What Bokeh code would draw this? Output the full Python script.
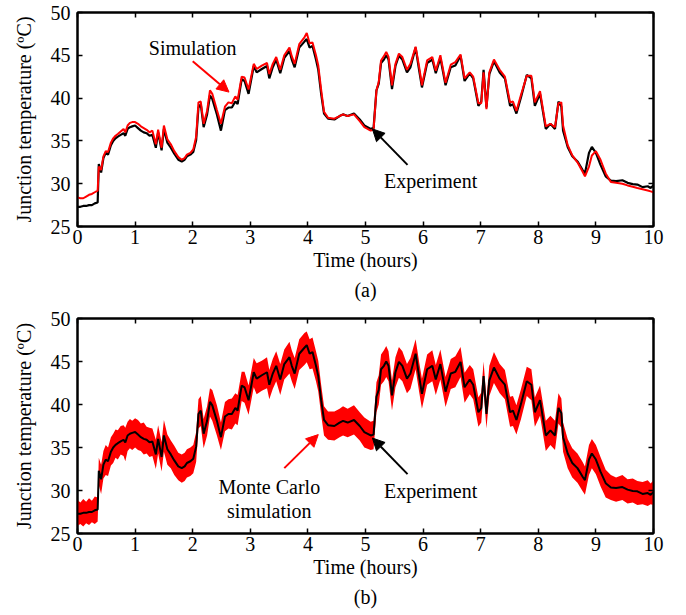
from bokeh.plotting import figure
from bokeh.models import Range1d, FixedTicker, LinearAxis, Label, Arrow, NormalHead, Title, ColumnDataSource
from bokeh.layouts import column
from bokeh.embed import file_html
from bokeh.resources import INLINE

# ---------------- data ----------------
time_h = [0.00, 0.05, 0.10, 0.15, 0.20, 0.25, 0.30, 0.35, 0.37, 0.41,
          0.45, 0.49, 0.53, 0.58, 0.62, 0.66, 0.70, 0.75, 0.80, 0.83,
          0.87, 0.91, 0.95, 1.00,
          1.05, 1.10, 1.15, 1.20, 1.25, 1.30, 1.36, 1.40, 1.46, 1.50,
          1.56, 1.62, 1.68, 1.75, 1.81, 1.86, 1.90, 1.96, 2.01,
          2.06, 2.10, 2.14, 2.19, 2.25, 2.30, 2.34, 2.42, 2.49, 2.56,
          2.62, 2.68, 2.74, 2.78, 2.85, 2.90, 2.97, 3.06,
          3.11, 3.20, 3.29, 3.33, 3.39, 3.45, 3.52, 3.59, 3.68, 3.72,
          3.77, 3.85, 3.94, 3.98, 4.03, 4.08, 4.14, 4.18, 4.23, 4.28,
          4.35, 4.46, 4.55, 4.61, 4.69, 4.80, 4.90, 4.98, 5.09, 5.14,
          5.19, 5.23, 5.27, 5.32, 5.36, 5.40,
          5.46, 5.52, 5.58, 5.64, 5.72, 5.78, 5.87, 5.93, 5.98, 6.07,
          6.16, 6.22, 6.30, 6.39, 6.48, 6.56, 6.65,
          6.72, 6.81, 6.87, 6.96, 7.01, 7.05, 7.10, 7.15, 7.23, 7.33,
          7.42, 7.51, 7.56, 7.62, 7.70, 7.80, 7.88, 7.94, 8.03,
          8.13, 8.21, 8.29, 8.35, 8.40, 8.43, 8.51, 8.59, 8.68, 8.77,
          8.81, 8.88, 8.93, 9.00, 9.08, 9.17, 9.26, 9.35, 9.46, 9.55,
          9.64, 9.72, 9.81, 9.90, 9.95, 10.0]

experiment = [27.3, 27.3, 27.4, 27.4, 27.5, 27.5, 27.7, 27.8, 32.3, 31.3,
              33.0, 33.6, 33.4, 34.5, 35.0, 35.3, 35.5, 35.7, 35.9, 35.6,
              36.4, 36.6, 36.7, 36.8,
              36.5, 36.2, 36.0, 35.9, 35.6, 35.7, 34.2, 36.0, 33.9, 36.4,
              34.8, 34.2, 33.5, 32.8, 32.6, 32.8, 33.2, 33.4, 33.7,
              35.1, 38.9, 39.3, 36.6, 38.1, 40.3, 39.9, 38.1, 36.2, 38.6,
              38.9, 38.9, 39.6, 39.3, 42.2, 42.0, 40.5, 43.75,
              43.0, 43.4, 43.75, 42.3, 43.6, 44.5, 42.9, 44.7, 45.5, 44.5,
              43.6, 45.9, 46.6, 46.9, 45.9, 46.1, 44.5, 43.3, 40.5, 38.2,
              37.6, 37.5, 37.9, 38.1, 37.9, 38.2, 37.5, 36.8, 36.4, 36.5,
              40.9, 41.7, 44.1, 44.5, 45.0, 44.5,
              41.05, 43.75, 44.95, 44.5, 43.0, 43.6, 45.9, 43.3, 41.25, 44.1,
              44.5, 42.9, 44.7, 41.5, 43.6, 43.8, 44.95,
              42.0, 42.9, 42.3, 39.1, 39.6, 43.3, 38.9, 42.8, 44.3, 43.0,
              42.3, 39.1, 39.3, 38.2, 40.1, 42.7, 42.3, 39.1, 40.5,
              36.4, 37.0, 36.4, 39.6, 39.0, 36.2, 34.3, 33.2, 32.6, 31.6,
              31.2, 33.6, 34.3, 33.6, 32.2, 30.85, 30.35, 30.3, 30.4, 30.1,
              29.95, 29.9, 29.6, 29.7, 29.5, 29.8]

simulation = [28.4, 28.3, 28.3, 28.5, 28.7, 28.8, 29.0, 29.2, 32.0, 31.6,
              33.2, 33.8, 33.7, 34.8, 35.3, 35.6, 35.8, 36.1, 36.4, 36.0,
              36.8, 37.1, 37.2, 37.2,
              37.0, 36.7, 36.5, 36.3, 36.0, 36.2, 34.6, 36.3, 34.2, 36.8,
              35.2, 34.6, 33.8, 33.1, 32.8, 33.0, 33.4, 33.6, 34.0,
              35.5, 39.5, 39.6, 37.0, 38.5, 40.9, 40.5, 38.6, 37.0, 39.0,
              39.5, 39.4, 40.2, 39.8, 42.5, 42.4, 41.0, 44.0,
              43.4, 43.8, 44.1, 42.8, 44.0, 44.8, 43.3, 45.0, 45.9, 44.9,
              44.0, 46.3, 47.1, 47.6, 46.4, 46.5, 45.0, 43.8, 41.0, 38.4,
              37.7, 37.6, 37.9, 38.1, 37.9, 38.1, 37.3, 36.6, 36.2, 36.3,
              40.9, 41.9, 44.4, 44.9, 45.4, 44.8,
              41.5, 44.0, 45.2, 44.8, 43.3, 44.0, 46.0, 43.7, 41.5, 44.4,
              44.8, 43.2, 45.0, 41.8, 43.9, 44.2, 45.1,
              42.3, 43.0, 42.5, 39.4, 39.4, 43.0, 38.7, 43.0, 44.5, 43.3,
              42.5, 39.5, 39.6, 38.5, 40.4, 42.6, 42.6, 39.5, 40.8,
              36.7, 37.0, 36.6, 39.4, 39.5, 36.8, 34.5, 33.3, 32.5, 31.4,
              30.85, 32.0, 33.3, 33.8, 32.8, 31.2, 30.2, 30.1, 30.0, 29.8,
              29.65, 29.5, 29.35, 29.2, 29.1, 29.0]

mc_upper = [28.9, 28.6, 29.0, 28.7, 29.1, 28.8, 29.3, 29.2, 33.8, 33.0,
            34.6, 35.3, 35.0, 36.2, 36.6, 37.1, 37.0, 37.5, 37.6, 37.3,
            38.0, 38.3, 38.1, 38.4,
            38.2, 37.8, 37.9, 37.4, 37.3, 37.2, 35.9, 37.6, 35.6, 38.2,
            36.5, 35.8, 35.2, 34.4, 34.2, 34.4, 34.8, 35.0, 35.3,
            36.8, 40.6, 41.0, 38.3, 39.8, 41.9, 41.7, 39.9, 37.9, 40.3,
            40.6, 40.7, 41.3, 41.1, 43.8, 43.8, 42.2, 45.4,
            44.8, 45.1, 45.5, 44.0, 45.3, 46.2, 44.7, 46.4, 47.3, 46.3,
            45.4, 47.6, 48.3, 48.5, 47.6, 47.8, 46.2, 45.1, 42.3, 39.8,
            39.2, 39.2, 39.5, 39.8, 39.5, 39.9, 39.1, 38.5, 38.0, 38.1,
            42.6, 43.4, 45.8, 46.3, 46.8, 46.2,
            42.8, 45.5, 46.7, 46.2, 44.7, 45.4, 47.6, 45.0, 43.0, 45.8,
            46.3, 44.6, 46.4, 43.2, 45.3, 45.6, 46.7,
            43.7, 44.6, 44.1, 40.8, 41.4, 45.0, 40.6, 44.5, 46.1, 44.7,
            44.0, 40.9, 41.0, 39.9, 41.8, 44.4, 44.1, 40.8, 42.2,
            38.1, 38.7, 38.1, 41.3, 40.7, 37.9, 36.0, 34.9, 34.3, 33.3,
            32.8, 35.3, 36.0, 35.3, 33.9, 32.4, 31.8, 31.5, 31.8, 31.3,
            31.4, 31.1, 31.0, 31.2, 30.8, 31.2]

mc_lower = [25.9, 26.1, 25.8, 26.2, 26.0, 26.3, 26.1, 26.4, 30.6, 29.6,
            31.4, 31.8, 31.7, 32.9, 33.2, 33.8, 33.6, 34.2, 34.0, 33.4,
            34.6, 34.9, 34.7, 35.0,
            34.7, 34.6, 34.2, 34.3, 33.9, 34.0, 32.5, 34.3, 32.2, 34.5,
            33.0, 32.6, 31.8, 31.2, 30.9, 31.1, 31.5, 31.7, 32.0,
            33.3, 37.2, 37.5, 34.9, 36.4, 38.6, 38.1, 36.4, 34.7, 36.9,
            37.2, 37.1, 37.8, 37.6, 40.4, 40.2, 38.8, 42.0,
            41.2, 41.6, 41.9, 40.6, 41.8, 42.7, 41.1, 42.9, 43.6, 42.7,
            41.8, 44.0, 44.6, 44.9, 44.1, 44.2, 42.7, 41.5, 38.8, 36.4,
            35.9, 35.8, 36.2, 36.4, 36.2, 36.5, 35.8, 35.0, 34.7, 34.8,
            39.1, 40.0, 42.3, 42.7, 43.2, 42.7,
            39.3, 42.0, 43.1, 42.7, 41.3, 41.8, 44.1, 41.5, 39.5, 42.3,
            42.7, 41.1, 42.9, 39.7, 41.8, 42.0, 43.2,
            40.2, 41.2, 40.6, 37.4, 37.9, 41.5, 37.2, 41.0, 42.5, 41.3,
            40.6, 37.4, 37.5, 36.5, 38.3, 41.0, 40.5, 37.4, 38.7,
            34.6, 35.3, 34.7, 37.8, 37.3, 34.5, 32.6, 31.5, 30.9, 29.9,
            29.5, 31.8, 32.6, 31.9, 30.5, 29.2, 28.9, 28.7, 28.9, 28.5,
            28.6, 28.3, 28.4, 28.2, 28.4, 28.3]

x_ticks = [0, 1, 2, 3, 4, 5, 6, 7, 8, 9, 10]
y_ticks = [25, 30, 35, 40, 45, 50]
x_label = "Time (hours)"
y_label = "Junction temperature (ºC)"

src = ColumnDataSource(dict(t=time_h, exp=experiment, sim=simulation,
                            up=mc_upper, lo=mc_lower))

FONT = "'Liberation Serif', 'Times New Roman', Times, serif"
FS = "20px"


def make_fig(height, border_top, border_bottom, caption, cap_standoff):
    p = figure(width=686, height=height, x_range=Range1d(0, 10), y_range=Range1d(25, 50),
               output_backend="svg", toolbar_location=None,
               min_border_left=77, min_border_right=33,
               min_border_top=border_top, min_border_bottom=border_bottom)
    p.grid.visible = False
    p.outline_line_color = "black"
    p.outline_line_width = 2
    p.outline_line_alpha = 1.0
    p.background_fill_color = "white"
    p.border_fill_color = "white"
    p.add_layout(LinearAxis(), "above")
    p.add_layout(LinearAxis(), "right")
    for ax in p.xaxis:
        ax.ticker = FixedTicker(ticks=x_ticks)
    for ax in p.yaxis:
        ax.ticker = FixedTicker(ticks=y_ticks)
    for ax in p.axis:
        ax.major_tick_in = 5
        ax.major_tick_out = 0
        ax.minor_tick_in = 0
        ax.minor_tick_out = 0
        ax.major_tick_line_color = "black"
        ax.major_tick_line_width = 1.5
        ax.axis_line_color = "black"
        ax.axis_line_width = 2
        ax.major_label_text_font = FONT
        ax.major_label_text_font_size = FS
        ax.major_label_text_color = "black"
        ax.axis_label_text_font = FONT
        ax.axis_label_text_font_size = FS
        ax.axis_label_text_font_style = "normal"
        ax.axis_label_text_color = "black"
    # top and right axes: inward ticks only, labels not painted
    for ax in p.above + p.right:
        ax.major_label_text_font_size = "1px"
        ax.major_label_text_color = None
        ax.major_label_standoff = 0
    p.below[0].axis_label = x_label
    p.below[0].major_label_standoff = 3
    p.below[0].axis_label_standoff = 2
    p.left[0].axis_label = y_label
    p.left[0].major_label_standoff = 7
    p.left[0].axis_label_standoff = 13
    p.add_layout(Title(text=caption, align="center", text_font=FONT, text_font_size=FS,
                       text_font_style="normal", text_color="black", standoff=cap_standoff), "below")
    return p


# ---------- panel (a) ----------
p1 = make_fig(306, 12, 80, "(a)", 6)
p1.line("t", "exp", source=src, line_color="black", line_width=2.2)
p1.line("t", "sim", source=src, line_color="#ff0000", line_width=2)
p1.add_layout(Label(x=2.0, y=45.8, text="Simulation", text_align="center", text_baseline="middle",
                    text_font=FONT, text_font_size=FS, text_color="black"))
p1.add_layout(Arrow(end=NormalHead(size=12, fill_color="#ff0000", line_color="#ff0000"),
                    x_start=2.0, y_start=44.3, x_end=2.63, y_end=40.7,
                    line_color="#ff0000", line_width=2))
p1.add_layout(Label(x=6.13, y=30.3, text="Experiment", text_align="center", text_baseline="middle",
                    text_font=FONT, text_font_size=FS, text_color="black"))
p1.add_layout(Arrow(end=NormalHead(size=12, fill_color="black", line_color="black"),
                    x_start=5.73, y_start=32.2, x_end=5.12, y_end=36.4,
                    line_color="black", line_width=2))

# ---------- panel (b) ----------
p2 = make_fig(307, 12, 80, "(b)", 6)
p2.varea("t", "lo", "up", source=src, fill_color="#ff0000")
p2.line("t", "exp", source=src, line_color="black", line_width=2)
p2.add_layout(Label(x=3.33, y=30.4, text="Monte Carlo", text_align="center", text_baseline="middle",
                    text_font=FONT, text_font_size=FS, text_color="black"))
p2.add_layout(Label(x=3.33, y=27.6, text="simulation", text_align="center", text_baseline="middle",
                    text_font=FONT, text_font_size=FS, text_color="black"))
p2.add_layout(Arrow(end=NormalHead(size=12, fill_color="#ff0000", line_color="#ff0000"),
                    x_start=3.59, y_start=32.6, x_end=4.18, y_end=36.5,
                    line_color="#ff0000", line_width=2))
p2.add_layout(Label(x=6.13, y=30.0, text="Experiment", text_align="center", text_baseline="middle",
                    text_font=FONT, text_font_size=FS, text_color="black"))
p2.add_layout(Arrow(end=NormalHead(size=12, fill_color="black", line_color="black"),
                    x_start=5.73, y_start=31.9, x_end=5.12, y_end=36.1,
                    line_color="black", line_width=2))

layout = column(p1, p2)
open("out.html", "w").write(file_html(layout, INLINE))
